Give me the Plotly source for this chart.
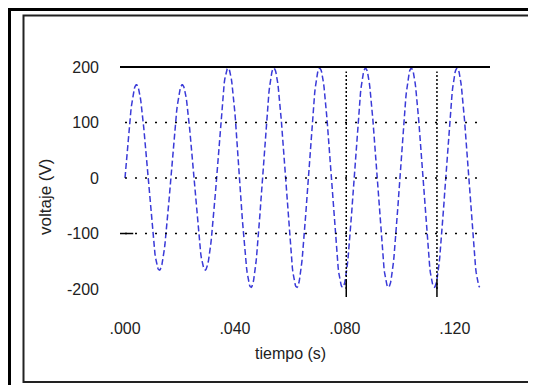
import numpy as np
import plotly.graph_objects as go

# ---- data ----
freq_hz = 60.0                     # period ~ 1/60 s
half_cycle_peaks = [168, -166, 168, -166, 198, -197, 198, -197,
                    198, -197, 198, -197, 198, -197, 198, -197]
t_end = 0.1292                     # curve ends near the last trough
grid_levels = [100, 0, -100]
grid_t_span = [0.0, 0.1302]
marker_times = [0.0805, 0.1135]    # vertical dotted lines
x_tickvals = [0.0, 0.04, 0.08, 0.12]
x_ticktext = [".000", ".040", ".080", ".120"]
y_tickvals = [200, 100, 0, -100, -200]
y_ticktext = ["200", "100", "0", "-100", "-200"]
x_range = [-0.00182, 0.1328]
y_range = [-214.4, 205.4]

# ---- build curve from the half-cycle peak values ----
ts, vs = [], []
half = 1.0 / (2 * freq_hz)
for k, amp in enumerate(half_cycle_peaks):
    t = np.linspace(k * half, (k + 1) * half, 40)
    v = abs(amp) * np.sin(2 * np.pi * freq_hz * t)
    m = t <= t_end
    ts.extend(t[m].tolist())
    vs.extend(v[m].tolist())

OFF = 8  # page body margin
W, H = 536, 385
L, R, T, B = 112, 54, 56, 96
pw, ph = W - L - R, H - T - B


def px(x):  # x in screenshot pixels
    return (x - OFF - L) / pw


def py(y):  # y in screenshot pixels
    return (H - B - (y - OFF)) / ph


fig = go.Figure()
fig.add_trace(go.Scatter(x=ts, y=vs, mode="lines",
                         line=dict(color="#3a3ad8", width=1.5, dash="6px,3px"),
                         hoverinfo="skip", showlegend=False))

shapes = []
shapes.append(dict(type="line", xref="x", yref="y", x0=x_range[0], x1=x_range[1],
                   y0=200, y1=200, line=dict(color="black", width=2)))
for g in grid_levels:
    shapes.append(dict(type="line", xref="x", yref="y", x0=grid_t_span[0], x1=grid_t_span[1],
                       y0=g, y1=g, line=dict(color="black", width=1.5, dash="2px,8px")))
shapes.append(dict(type="line", xref="x", yref="y", x0=x_range[0], x1=0.003,
                   y0=-100, y1=-100, line=dict(color="black", width=1.5)))
for mt in marker_times:
    shapes.append(dict(type="line", xref="x", yref="y", x0=mt, x1=mt, y0=-200, y1=192,
                       line=dict(color="black", width=1.5, dash="2px,2px")))
    shapes.append(dict(type="line", xref="x", yref="y", x0=mt, x1=mt, y0=y_range[0], y1=-185,
                       line=dict(color="black", width=1.5)))
# frames
shapes.append(dict(type="line", xref="paper", yref="paper", x0=px(8), x1=px(545),
                   y0=py(9.5), y1=py(9.5), line=dict(color="black", width=3)))
shapes.append(dict(type="line", xref="paper", yref="paper", x0=px(9.5), x1=px(9.5),
                   y0=py(8), y1=py(395), line=dict(color="black", width=3)))
shapes.append(dict(type="rect", xref="paper", yref="paper", x0=px(23.5), x1=px(533),
                   y0=py(15.5), y1=py(382), line=dict(color="#222", width=2)))

font = dict(family="Liberation Sans, Arial, sans-serif", size=16, color="#222")
annotations = [
    dict(text="tiempo (s)", xref="paper", yref="paper", x=px(290), y=py(353),
         showarrow=False, font=font, xanchor="center", yanchor="middle"),
    dict(text="voltaje (V)", xref="paper", yref="paper", x=px(45), y=py(197),
         showarrow=False, font=dict(family=font["family"], size=17, color="#222"),
         textangle=-90, xanchor="center", yanchor="middle"),
]

fig.update_layout(
    width=W, height=H, margin=dict(l=L, r=R, t=T, b=B, pad=0),
    paper_bgcolor="white", plot_bgcolor="white",
    shapes=shapes, annotations=annotations, font=font,
    xaxis=dict(range=x_range, tickvals=x_tickvals, ticktext=x_ticktext,
               showgrid=False, zeroline=False, showline=False, ticks="",
               ticklabelstandoff=20, tickfont=font, fixedrange=True),
    yaxis=dict(range=y_range, tickvals=y_tickvals, ticktext=y_ticktext,
               showgrid=False, zeroline=False, showline=False, ticks="",
               ticklabelstandoff=20, tickfont=font, fixedrange=True),
)

fig.write_html("out.html")
